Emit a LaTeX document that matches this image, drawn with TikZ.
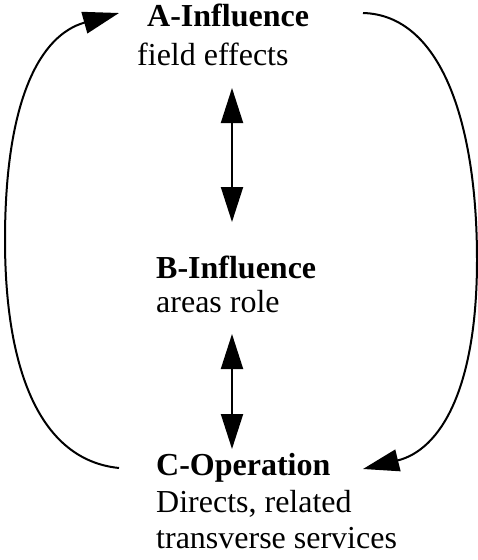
\documentclass[tikz,border=0pt]{standalone}
\usepackage{fontspec}
\setmainfont{Liberation Serif}
\usetikzlibrary{arrows.meta}
\tikzset{
  head/.style={font=\fontsize{32}{37}\selectfont\bfseries, anchor=base west, inner sep=0pt},
  desc/.style={font=\fontsize{32}{37}\selectfont, anchor=base west, inner sep=0pt},
  link/.style={line width=2pt, -{Triangle[length=36pt,width=22pt]}},
  twoway/.style={line width=2pt, {Triangle[length=35pt,width=22pt]}-{Triangle[length=35pt,width=22pt]}}
}
\begin{document}
\begin{tikzpicture}[x=1pt,y=-1pt]
  \useasboundingbox (0,0) rectangle (478,560);
  % level labels
  \node[head] (aT) at (147,26) {A-Influence};
  \node[desc] (aD) at (137,65) {field effects};
  \node[head] (bT) at (156,278) {B-Influence};
  \node[desc] (bD) at (156,312) {areas role};
  \node[head] (cT) at (156,475) {C-Operation};
  \node[desc] (cD) at (156,512) {Directs, related};
  \node[desc] (cE) at (156,548) {transverse services};
  % arrow end points
  \coordinate (abTop) at (232,88);
  \coordinate (abBot) at (232,222);
  \coordinate (bcTop) at (232,334);
  \coordinate (bcBot) at (232,449);
  \coordinate (cLeft) at (119,468);
  \coordinate (aLeft) at (119,13);
  \coordinate (aRight) at (363,13);
  \coordinate (cRight) at (363,469);
  % two-way links between levels
  \draw[twoway] (abTop) -- (abBot);
  \draw[twoway] (bcTop) -- (bcBot);
  % feedback loops
  \draw[link] (cLeft) .. controls (40,460) and (5,370) .. (5,240)
              .. controls (5,100) and (40,35) .. (aLeft);
  \draw[link] (aRight) .. controls (440,15) and (477,120) .. (477,260)
              .. controls (477,390) and (440,450) .. (cRight);
\end{tikzpicture}
\end{document}
